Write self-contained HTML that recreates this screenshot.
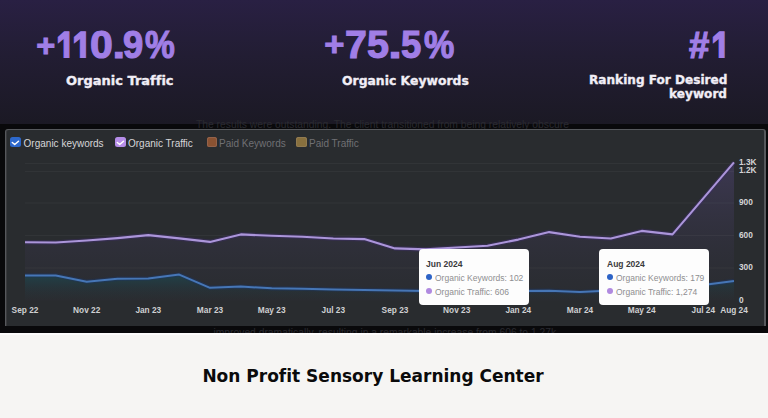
<!DOCTYPE html>
<html><head><meta charset="utf-8">
<style>
*{margin:0;padding:0;box-sizing:border-box}
html,body{width:768px;height:418px;overflow:hidden}
body{position:relative;background:#f6f5f3;font-family:"Liberation Sans",sans-serif;font-variant-ligatures:none}
.hdr{position:absolute;left:0;top:0;width:768px;height:124px;background:linear-gradient(180deg,#292043 0%,#221d33 45%,#1b1924 100%)}
.bg{position:absolute;top:26.2px;font-family:"Liberation Sans",sans-serif;font-weight:bold;color:#a07ee6;font-size:38px;line-height:38px;white-space:nowrap;-webkit-text-stroke:1.1px #a07ee6}
.b1{height:32.3px;width:24px;overflow:hidden}
.b1 span{display:block}
.lbl{position:absolute;font-family:"DejaVu Sans",sans-serif;font-weight:bold;color:#f1eef6;-webkit-text-stroke:0.35px #f1eef6;font-size:13px;line-height:13.5px;white-space:nowrap}
.band{position:absolute;left:0;top:124px;width:768px;height:209px;background:#09090b;overflow:hidden}
.btxt{position:absolute;font-size:10.3px;color:#2a2a30;white-space:nowrap;line-height:12px}
.panel{position:absolute;left:5px;top:129px;width:761px;height:197px;background:#292c2f;border:1px solid #56585c;border-right-width:2px;border-bottom:none;border-radius:3px 3px 0 0;box-shadow:inset 1px 0 0 #3a3b3e}
.leg{position:absolute;top:138.5px;font-size:10px;line-height:10px;color:#d6d6d8;white-space:nowrap}
.cb{position:absolute;top:136.5px;width:10.7px;height:10.5px;border-radius:2.5px}
.xl{position:absolute;top:304.6px;font-size:8.3px;font-weight:bold;color:#cfd0d2;white-space:nowrap;line-height:10px;transform:translateX(-50%)}
.yl{position:absolute;left:739px;font-size:8.3px;font-weight:bold;color:#d4d4d6;white-space:nowrap;line-height:10px}
.tip{position:absolute;top:249.4px;width:110px;height:55.8px;background:#fdfdfd;border-radius:4px}
.tt{position:absolute;font-size:8.5px;font-weight:bold;color:#3a3a3c;white-space:nowrap;line-height:10px}
.tr{position:absolute;font-size:8.5px;color:#8e8e90;white-space:nowrap;line-height:10px}
.dot{position:absolute;width:6.2px;height:6.2px;border-radius:50%;margin:0.15px 0 0 0.15px}
.title{position:absolute;left:202.4px;top:366.3px;white-space:nowrap;font-family:"DejaVu Sans",sans-serif;font-weight:bold;font-size:17px;color:#0b0b0b;line-height:20px}
</style></head><body>
<div class="hdr"></div>
<div class="bigwrap"><span class="bg" style="left:35.65px;transform:scale(0.856,0.815);transform-origin:1.45px 19px">+</span><span class="bg b1" style="left:55.95px"><span style="transform:scale(0.916,1.26);transform-origin:1.45px 5px">1</span></span><span class="bg b1" style="left:72.15px"><span style="transform:scale(0.954,1.26);transform-origin:1.45px 5px">1</span></span><span class="bg" style="left:90.35px;transform:scaleX(1.080);transform-origin:0.45px 0">0</span><span class="bg" style="left:112.65px;transform:scaleX(1.197);transform-origin:2.45px 0">.</span><span class="bg" style="left:122.95px;transform:scaleX(0.960);transform-origin:0.45px 0">9</span><span class="bg" style="left:145.35px;transform:scaleX(0.882);transform-origin:0.45px 0">%</span></div>
<div class="bigwrap"><span class="bg" style="left:324.15px;transform:scale(0.910,0.85);transform-origin:1.45px 19px">+</span><span class="bg" style="left:344.55px;transform:scaleX(1.034);transform-origin:1.45px 0">7</span><span class="bg" style="left:367.35px;transform:scaleX(1.040);transform-origin:0.45px 0">5</span><span class="bg" style="left:388.80px;transform:scaleX(1.287);transform-origin:2.45px 0">.</span><span class="bg" style="left:400.65px;transform:scaleX(0.960);transform-origin:0.45px 0">5</span><span class="bg" style="left:423.65px;transform:scaleX(0.896);transform-origin:0.45px 0">%</span></div>
<div class="bigwrap"><span class="bg" style="left:689.4px;transform:scale(0.96,0.96);transform-origin:0.45px 32px;-webkit-text-stroke:1.3px #a07ee6">#</span><span class="bg b1" style="left:710.85px"><span style="transform:scale(0.931,1.26);transform-origin:1.45px 5px">1</span></span></div>

<div class="lbl" style="left:66px;top:74px">Organic Traffic</div>

<div class="lbl" style="left:342px;top:74px;font-size:12.4px">Organic Keywords</div>

<div class="lbl" style="left:589px;top:74px;font-size:12.1px;text-align:right;width:138px">Ranking For Desired<br>keyword</div>

<div class="band"></div>
<div class="btxt" style="left:196px;top:119.3px">The results were outstanding. The client transitioned from being relatively obscure</div>
<div style="position:absolute;left:0;top:326px;width:768px;height:7px;overflow:hidden"><div class="btxt" style="left:213.5px;top:0.5px">improved dramatically, resulting in a remarkable increase from 606 to 1.27k</div></div>
<div class="panel"></div>

<svg style="position:absolute;left:0;top:0" width="768" height="418" viewBox="0 0 768 418">
  <defs>
    <linearGradient id="gp" x1="0" y1="0" x2="0" y2="1">
      <stop offset="0" stop-color="#5a4a86" stop-opacity="0.40"/>
      <stop offset="1" stop-color="#3a3450" stop-opacity="0.05"/>
    </linearGradient>
    <linearGradient id="gb" x1="0" y1="0" x2="0" y2="1">
      <stop offset="0" stop-color="#1b4a52" stop-opacity="0.7"/>
      <stop offset="1" stop-color="#23353b" stop-opacity="0.0"/>
    </linearGradient>
  </defs>
  
  <path id="pfill" fill="url(#gp)" d="M25,242.3 L55.8,242.5 L86.7,240.5 L117.5,238.1 L148.3,235.1 L179.2,238.4 L210,241.9 L240.8,234.4 L271.7,235.8 L302.5,236.7 L333.3,238.5 L364.2,239.1 L395,248.4 L425.8,249.4 L456.7,247.5 L487.5,245.8 L518.3,239.6 L549.2,232.1 L580,236.8 L610.8,238.5 L641.7,230.9 L672.5,234.4 L734,162.4 L734,300.5 L25,300.5 Z"/>
  <path fill="url(#gb)" d="M25,275.4 L55.8,275.4 L86.7,281.7 L117.5,278.7 L148.3,278.4 L179.2,274.6 L210,287.8 L240.8,286.6 L271.7,288.3 L302.5,288.7 L333.3,289.4 L364.2,290 L395,290.5 L425.8,291 L456.7,291 L487.5,291 L518.3,291 L549.2,290.8 L580,292.1 L610.8,290.5 L641.7,289 L672.5,289.4 L703.3,285 L734,281 L734,300.5 L25,300.5 Z"/>
  <g stroke="#ffffff" stroke-opacity="0.04" stroke-width="1">
    <line x1="25" y1="163.5" x2="734" y2="163.5"/>
    <line x1="25" y1="171.5" x2="734" y2="171.5"/>
    <line x1="25" y1="203" x2="734" y2="203"/>
    <line x1="25" y1="235.5" x2="734" y2="235.5"/>
    <line x1="25" y1="268" x2="734" y2="268"/>
  </g>
  <polyline fill="none" stroke="#3a2e5e" stroke-opacity="0.55" stroke-width="4.6" stroke-linejoin="round" points="25,242.3 55.8,242.5 86.7,240.5 117.5,238.1 148.3,235.1 179.2,238.4 210,241.9 240.8,234.4 271.7,235.8 302.5,236.7 333.3,238.5 364.2,239.1 395,248.4 425.8,249.4 456.7,247.5 487.5,245.8 518.3,239.6 549.2,232.1 580,236.8 610.8,238.5 641.7,230.9 672.5,234.4 734,162.4"/>
  <polyline fill="none" stroke="#ab95da" stroke-width="2.1" stroke-linejoin="round" points="25,242.3 55.8,242.5 86.7,240.5 117.5,238.1 148.3,235.1 179.2,238.4 210,241.9 240.8,234.4 271.7,235.8 302.5,236.7 333.3,238.5 364.2,239.1 395,248.4 425.8,249.4 456.7,247.5 487.5,245.8 518.3,239.6 549.2,232.1 580,236.8 610.8,238.5 641.7,230.9 672.5,234.4 734,162.4"/>
  <polyline fill="none" stroke="#1e3560" stroke-opacity="0.5" stroke-width="4.4" stroke-linejoin="round" points="25,275.4 55.8,275.4 86.7,281.7 117.5,278.7 148.3,278.4 179.2,274.6 210,287.8 240.8,286.6 271.7,288.3 302.5,288.7 333.3,289.4 364.2,290 395,290.5 425.8,291 456.7,291 487.5,291 518.3,291 549.2,290.8 580,292.1 610.8,290.5 641.7,289 672.5,289.4 703.3,285 734,281"/>
  <polyline fill="none" stroke="#4676b6" stroke-width="2" stroke-linejoin="round" points="25,275.4 55.8,275.4 86.7,281.7 117.5,278.7 148.3,278.4 179.2,274.6 210,287.8 240.8,286.6 271.7,288.3 302.5,288.7 333.3,289.4 364.2,290 395,290.5 425.8,291 456.7,291 487.5,291 518.3,291 549.2,290.8 580,292.1 610.8,290.5 641.7,289 672.5,289.4 703.3,285 734,281"/>
</svg>

<div class="cb" style="left:10.1px;background:#2d68cc"><svg width="10.7" height="10.5" viewBox="0 0 10.7 10.5" style="position:absolute;left:0;top:0"><polyline points="2.3,5.5 4.7,7.5 8.5,4.2" fill="none" stroke="#fff" stroke-width="1.5" stroke-linecap="round" stroke-linejoin="round"/></svg></div>
<div class="leg" style="left:23.6px">Organic keywords</div>
<div class="cb" style="left:115px;background:#b58de8"><svg width="10.7" height="10.5" viewBox="0 0 10.7 10.5" style="position:absolute;left:0;top:0"><polyline points="2.3,5.5 4.7,7.5 8.5,4.2" fill="none" stroke="#fff" stroke-width="1.5" stroke-linecap="round" stroke-linejoin="round"/></svg></div>
<div class="leg" style="left:128px">Organic Traffic</div>
<div class="cb" style="left:207px;width:10px;background:#8a5232;box-shadow:inset 0 0 0 1px #94624a"></div>
<div class="leg" style="left:219px;color:#707074">Paid Keywords</div>
<div class="cb" style="left:296.3px;width:10.3px;background:#88703e;box-shadow:inset 0 0 0 1px #917a50"></div>
<div class="leg" style="left:309px;color:#707074">Paid Traffic</div>

<div class="xl" style="left:25px">Sep 22</div>
<div class="xl" style="left:86.7px">Nov 22</div>
<div class="xl" style="left:148.3px">Jan 23</div>
<div class="xl" style="left:210px">Mar 23</div>
<div class="xl" style="left:271.7px">May 23</div>
<div class="xl" style="left:333.3px">Jul 23</div>
<div class="xl" style="left:395px">Sep 23</div>
<div class="xl" style="left:456.7px">Nov 23</div>
<div class="xl" style="left:518.3px">Jan 24</div>
<div class="xl" style="left:580px">Mar 24</div>
<div class="xl" style="left:641.7px">May 24</div>
<div class="xl" style="left:703.3px">Jul 24</div>
<div class="xl" style="left:734px">Aug 24</div>

<div class="yl" style="top:157px">1.3K</div>
<div class="yl" style="top:165px">1.2K</div>
<div class="yl" style="top:197px">900</div>
<div class="yl" style="top:230px">600</div>
<div class="yl" style="top:262px">300</div>
<div class="yl" style="top:295px">0</div>

<div class="tip" style="left:419px"></div>
<div class="tt" style="left:426px;top:258.8px">Jun 2024</div>
<div class="dot" style="left:426px;top:274px;background:#2d63c6"></div>
<div class="tr" style="left:435px;top:273px">Organic Keywords: 102</div>
<div class="dot" style="left:426px;top:288px;background:#b08ae0"></div>
<div class="tr" style="left:435px;top:287px">Organic Traffic: 606</div>

<div class="tip" style="left:599px"></div>
<div class="tt" style="left:607px;top:258.8px">Aug 2024</div>
<div class="dot" style="left:607px;top:274px;background:#2d63c6"></div>
<div class="tr" style="left:616px;top:273px">Organic Keywords: 179</div>
<div class="dot" style="left:607px;top:288px;background:#b08ae0"></div>
<div class="tr" style="left:616px;top:287px">Organic Traffic: 1,274</div>

<div style="position:absolute;left:0;top:333px;width:768px;height:2px;background:#fdfcfc"></div>
<div class="title">Non Profit Sensory Learning Center</div>
</body></html>
